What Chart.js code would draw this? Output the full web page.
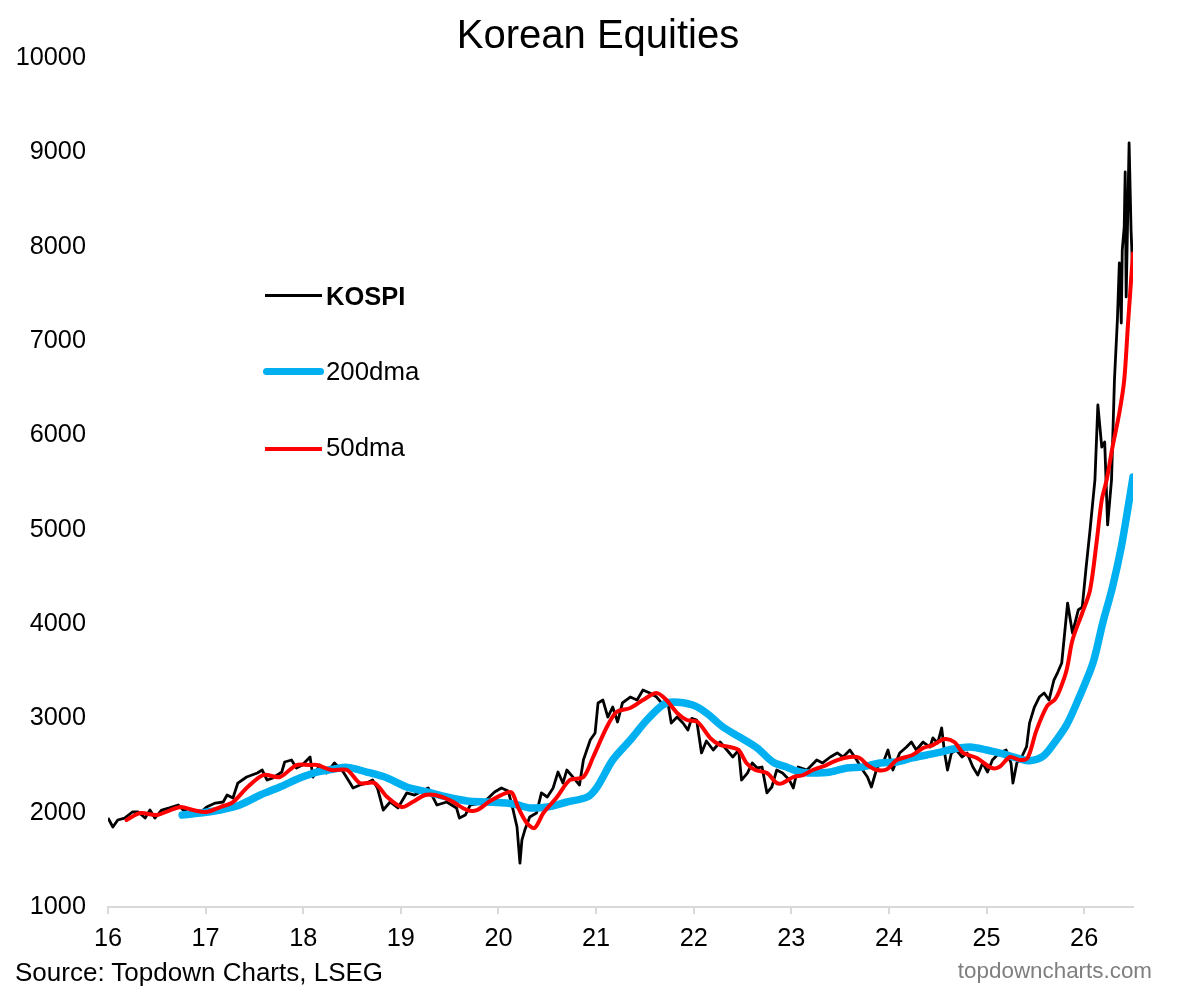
<!DOCTYPE html>
<html><head><meta charset="utf-8">
<script src="https://cdn.jsdelivr.net/npm/chart.js@4.4.1/dist/chart.umd.min.js"></script>
<style>
html,body{margin:0;padding:0;background:#fff;}
#wrap{position:relative;width:1190px;height:992px;overflow:hidden;font-family:"Liberation Sans",Arial,Helvetica,sans-serif;background:#fff;}
canvas{position:absolute;left:0;top:0;}
.t{position:absolute;white-space:nowrap;line-height:1;color:#000;}
.ln{position:absolute;}
</style></head><body>
<div id="wrap">
<canvas id="c" width="1190" height="992"></canvas>
<div class="t" style="left:298px;width:600px;text-align:center;top:14px;font-size:40px;">Korean Equities</div>
<div class="ln" style="left:265px;top:294px;width:57px;height:3px;background:#000;"></div>
<div class="t" style="left:326px;top:284px;font-size:25.5px;font-weight:bold;">KOSPI</div>
<div class="ln" style="left:263px;top:368px;width:61px;height:7px;background:#00B0F0;border-radius:4px;"></div>
<div class="t" style="left:326px;top:359px;font-size:25.8px;">200dma</div>
<div class="ln" style="left:265px;top:447px;width:57px;height:4px;background:#FF0000;"></div>
<div class="t" style="left:326px;top:435px;font-size:25.8px;">50dma</div>
<div class="t" style="left:15px;top:959px;font-size:26px;">Source: Topdown Charts, LSEG</div>
<div class="t" style="right:38px;top:960px;font-size:22.4px;color:#7f7f7f;">topdowncharts.com</div>
</div>
<script>
// ---- data (decimal years, index level) ----
const kospiX = [16.00,16.05,16.10,16.17,16.25,16.31,16.38,16.43,16.48,16.55,16.63,16.72,16.77,16.87,16.94,
17.01,17.10,17.18,17.22,17.28,17.33,17.42,17.53,17.58,17.63,17.69,17.78,17.81,17.88,17.93,17.99,
18.07,18.10,18.17,18.24,18.32,18.41,18.48,18.51,18.58,18.65,18.71,18.76,18.82,18.89,18.97,
19.06,19.14,19.28,19.37,19.47,19.57,19.60,19.66,19.71,19.81,19.88,19.96,
20.03,20.10,20.15,20.19,20.22,20.24,20.27,20.32,20.39,20.44,20.50,20.56,20.61,20.66,20.70,20.77,20.83,20.87,20.94,20.99,
21.02,21.07,21.12,21.17,21.22,21.27,21.35,21.42,21.48,21.55,21.62,21.67,21.74,21.77,21.83,21.89,21.94,21.98,
22.03,22.08,22.13,22.20,22.27,22.34,22.40,22.46,22.49,22.55,22.60,22.65,22.70,22.75,22.80,22.85,22.91,22.98,
23.02,23.07,23.16,23.26,23.32,23.40,23.47,23.53,23.60,23.67,23.73,23.78,23.82,23.88,23.94,23.99,
24.04,24.11,24.18,24.23,24.28,24.35,24.42,24.45,24.50,24.54,24.57,24.60,24.64,24.69,24.75,24.80,24.86,24.91,24.96,
25.01,25.06,25.13,25.20,25.25,25.27,25.31,25.36,25.41,25.44,25.49,25.54,25.59,25.64,25.69,25.73,25.77,25.83,25.88,25.94,25.98,
26.02,26.06,26.11,26.14,26.18,26.21,26.24,26.28,26.31,26.34,26.36,26.38,26.39,26.41,26.42,26.43,26.46,26.48,26.50];
const kospiY = [1943,1848,1922,1943,2007,2007,1943,2028,1943,2028,2050,2081,2028,1975,1996,
2060,2102,2113,2187,2155,2314,2378,2420,2452,2346,2368,2431,2537,2558,2474,2505,
2590,2378,2505,2420,2527,2431,2314,2262,2293,2314,2346,2262,2028,2113,2050,
2209,2187,2262,2081,2113,2050,1943,1975,2081,2102,2140,2219,
2262,2230,2028,1848,1466,1710,1816,1954,1996,2209,2166,2262,2431,2314,2452,2368,2293,2558,2770,2845,
3163,3194,3014,3120,2961,3163,3226,3194,3300,3269,3226,3163,3141,2950,3014,2950,2876,3000,
2982,2633,2760,2664,2749,2664,2590,2664,2346,2420,2527,2474,2484,2209,2272,2452,2420,2346,
2262,2484,2452,2558,2527,2590,2633,2590,2664,2558,2452,2378,2272,2484,2527,2664,
2452,2633,2696,2749,2664,2749,2696,2792,2739,2898,2633,2452,2633,2664,2590,2633,2484,2399,2527,
2431,2558,2633,2664,2527,2314,2527,2590,2700,2950,3120,3226,3269,3194,3406,3491,3587,4222,3905,4149,4180,
4604,4997,5527,6322,5876,5930,5050,5527,6587,7223,7827,7191,7965,8209,8792,7467,9099,8177,7647];

const dma200X = [16.76,16.94,17.15,17.35,17.56,17.76,17.97,18.14,18.30,18.45,18.65,18.86,
19.06,19.27,19.47,19.68,19.88,20.08,20.20,20.32,20.50,20.70,20.91,
21.01,21.17,21.35,21.52,21.68,21.79,21.99,22.13,22.30,22.47,22.65,22.81,22.95,
23.09,23.22,23.40,23.57,23.73,23.91,24.08,24.24,24.49,24.66,24.83,
25.00,25.17,25.34,25.44,25.58,25.68,25.82,25.95,26.09,26.19,26.29,26.38,26.45,26.50];
const dma200Y = [1975,1996,2028,2081,2187,2272,2370,2431,2460,2480,2431,2368,
2272,2219,2166,2124,2113,2102,2081,2050,2060,2113,2166,
2272,2558,2770,2982,3141,3173,3141,3057,2908,2802,2686,2537,2484,
2431,2420,2431,2474,2484,2527,2537,2580,2633,2675,2696,
2664,2622,2570,2550,2600,2720,2930,3226,3587,4011,4392,4816,5240,5558];

const dma50X = [16.19,16.33,16.50,16.74,16.87,17.01,17.15,17.28,17.42,17.59,17.76,17.93,
18.07,18.14,18.29,18.45,18.58,18.73,18.86,19.01,19.12,19.25,19.35,19.50,19.68,19.78,19.91,
20.08,20.14,20.20,20.29,20.37,20.46,20.60,20.73,20.87,20.97,21.11,21.21,21.35,21.48,21.62,21.72,21.83,21.93,
22.04,22.17,22.27,22.37,22.46,22.54,22.63,22.75,22.85,22.91,23.02,23.12,23.22,23.36,23.47,23.60,23.70,23.78,23.88,23.98,
24.08,24.24,24.35,24.45,24.57,24.67,24.76,24.90,25.05,25.13,25.24,25.34,25.42,25.51,25.62,25.70,25.75,25.82,25.88,25.98,
26.06,26.13,26.18,26.23,26.29,26.36,26.41,26.45,26.50];
const dma50Y = [1922,1996,1975,2060,2028,2007,2060,2113,2262,2399,2378,2505,
2505,2505,2452,2452,2314,2314,2166,2060,2113,2187,2187,2134,2028,2028,2120,
2209,2209,2060,1890,1837,1996,2166,2346,2378,2590,2908,3067,3110,3194,3269,3194,3057,2982,
2961,2790,2717,2696,2664,2527,2452,2420,2314,2314,2378,2399,2452,2505,2558,2590,2580,2505,2452,2460,
2558,2611,2686,2717,2781,2749,2633,2580,2474,2484,2590,2558,2580,2870,3130,3200,3300,3512,3830,4117,
4360,4891,5315,5527,5876,6237,6587,7200,7930];

const xTickValues = [16,17,18,19,20,21,22,23,24,25,26];
const xTickLabels = ['16','17','18','19','20','21','22','23','24','25','26'];
const yTickValues = [1000,2000,3000,4000,5000,6000,7000,8000,9000,10000];
const yTickLabels = ['1000','2000','3000','4000','5000','6000','7000','8000','9000','10000'];

const pts = (xs, ys) => xs.map((x, i) => ({x: x, y: ys[i]}));
const tickFont = {family: '"Liberation Sans", Arial, sans-serif', size: 25.3};

new Chart(document.getElementById('c'), {
  type: 'line',
  data: {
    datasets: [
      {label: 'KOSPI', data: pts(kospiX, kospiY), borderColor: '#000000', borderWidth: 2.8, pointRadius: 0, tension: 0, order: 3, borderJoinStyle: 'round'},
      {label: '200dma', data: pts(dma200X, dma200Y), borderColor: '#00B0F0', borderWidth: 7.5, pointRadius: 0, tension: 0.3, order: 2, borderCapStyle: 'round', borderJoinStyle: 'round'},
      {label: '50dma', data: pts(dma50X, dma50Y), borderColor: '#FF0000', borderWidth: 4, pointRadius: 0, tension: 0.3, order: 1, borderCapStyle: 'round', borderJoinStyle: 'round'}
    ]
  },
  options: {
    responsive: false,
    animation: false,
    devicePixelRatio: 1,
    layout: {padding: {top: 58, right: 57, left: 0, bottom: 0}},
    plugins: {legend: {display: false}, tooltip: {enabled: false}, title: {display: false}},
    scales: {
      x: {
        type: 'linear', min: 16, max: 26.5,
        afterBuildTicks: s => { s.ticks = xTickValues.map(v => ({value: v})); },
        afterFit: s => { s.height = 85; },
        ticks: {color: '#000', font: tickFont, padding: 10, maxRotation: 0, autoSkip: false,
                callback: v => xTickLabels[xTickValues.indexOf(v)]},
        grid: {display: true, drawOnChartArea: false, drawTicks: true, tickLength: 7, color: '#d9d9d9', lineWidth: 2},
        border: {display: true, color: '#d9d9d9', width: 2}
      },
      y: {
        type: 'linear', min: 1000, max: 10000,
        afterBuildTicks: s => { s.ticks = yTickValues.map(v => ({value: v})); },
        afterFit: s => { s.width = 108; },
        ticks: {color: '#000', font: tickFont, padding: 22, autoSkip: false,
                callback: v => yTickLabels[yTickValues.indexOf(v)]},
        grid: {display: false, drawTicks: false},
        border: {display: false}
      }
    }
  }
});
</script>
</body></html>
